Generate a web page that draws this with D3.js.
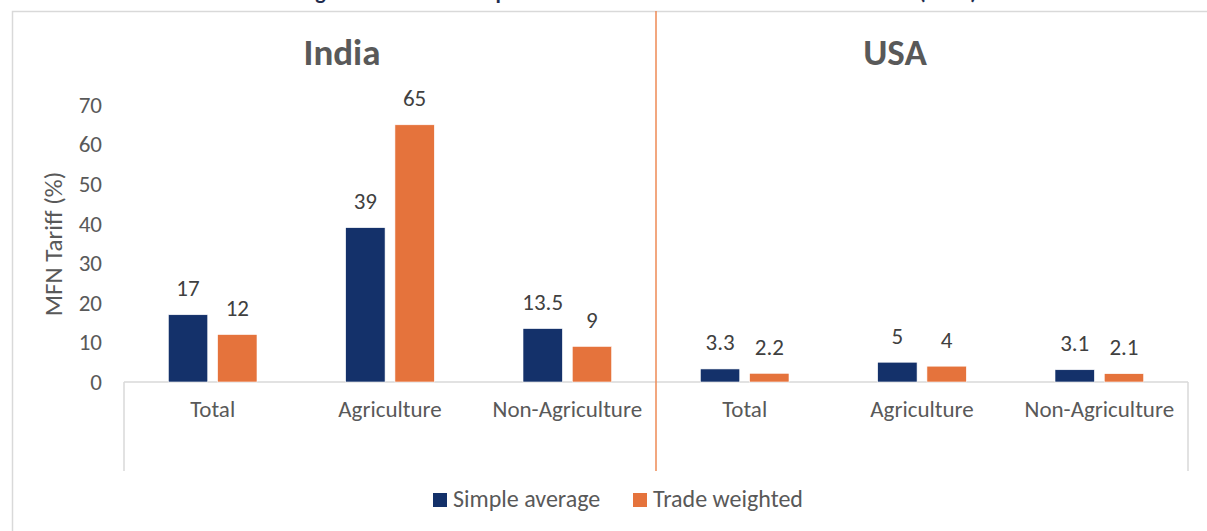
<!DOCTYPE html>
<html>
<head>
<meta charset="utf-8">
<script src="https://cdn.jsdelivr.net/npm/d3@7"></script>
<style>
    body { margin: 0; background: #fff; }
    text { font-family: Calibri, Carlito, 'Noto Sans', sans-serif; }
</style>
</head>
<body>
<div id="chart-area"></div>
<script>
// Data
const countries = ['India', 'USA'];
const categories = ['Total', 'Agriculture', 'Non-Agriculture'];
const seriesNames = ['Simple average', 'Trade weighted'];
const simpleAverage = [17, 39, 13.5, 3.3, 5, 3.1];
const tradeWeighted = [12, 65, 9, 2.2, 4, 2.1];
const yTicks = [0, 10, 20, 30, 40, 50, 60, 70];
const chartTitle = 'Average Tariff Rates: Comparison of India & USA – Most Favored Nation (2023)';

const colors = ['#14316a', '#e5733c'];

// Size
const W = 1207;
const H = 531;
const plot = { left: 124, right: 1188, top: 105, bottom: 382 };
const countryLabelX = [342, 895];

const svg = d3.select('#chart-area')
    .append('svg')
    .attr('width', W)
    .attr('height', H);

// Chart border (cropped)
svg.append('rect')
    .attr('x', 12.5)
    .attr('y', 11.5)
    .attr('width', 1220)
    .attr('height', 560)
    .attr('fill', 'none')
    .attr('stroke', '#d9d9d9')
    .attr('stroke-width', 1.5);

// Title (almost fully out of frame, only descenders show)
svg.append('text')
    .attr('x', 620)
    .attr('y', -1)
    .attr('text-anchor', 'middle')
    .attr('font-size', '22px')
    .attr('font-weight', 'bold')
    .attr('fill', '#1f2d4f')
    .text(chartTitle);

// Rows: one per country/category
const rows = [];
countries.forEach((c, i) => {
    categories.forEach((cat, j) => {
        const k = i * categories.length + j;
        rows.push({ id: k, country: c, category: cat, values: [simpleAverage[k], tradeWeighted[k]] });
    });
});

// X Scale
const x = d3.scaleBand()
    .domain(rows.map((d) => d.id))
    .range([plot.left, plot.right])
    .padding(0);

const x1 = d3.scaleBand()
    .domain(seriesNames)
    .range([0, x.bandwidth()])
    .paddingInner(0.2)
    .paddingOuter(0.9);

// Y Scale
const y = d3.scaleLinear()
    .domain([0, 70])
    .range([plot.bottom, plot.top]);

// Y Axis
const yAxisCall = d3.axisLeft(y)
    .tickValues(yTicks)
    .tickSize(0)
    .tickPadding(0);
const yAxis = svg.append('g')
    .attr('transform', 'translate(102, 0)')
    .call(yAxisCall);
yAxis.select('.domain').remove();
yAxis.selectAll('text')
    .attr('font-size', '23px')
    .attr('fill', '#595959')
    .style('font-family', "Calibri, Carlito, 'Noto Sans', sans-serif");

// Y Label
svg.append('text')
    .attr('transform', 'translate(56, 244) rotate(-90)')
    .attr('text-anchor', 'middle')
    .attr('dominant-baseline', 'middle')
    .attr('font-size', '25px')
    .attr('fill', '#595959')
    .text('MFN Tariff (%)');

// Category axis
const axisG = svg.append('g');
axisG.append('line')
    .attr('x1', plot.left).attr('x2', plot.right)
    .attr('y1', plot.bottom).attr('y2', plot.bottom)
    .attr('stroke', '#d9d9d9').attr('stroke-width', 1.5);
[plot.left, plot.right].forEach((xx) => {
    axisG.append('line')
        .attr('x1', xx).attr('x2', xx)
        .attr('y1', plot.bottom).attr('y2', 471)
        .attr('stroke', '#d9d9d9').attr('stroke-width', 1.5);
});

axisG.selectAll('.cat-label')
    .data(rows)
    .enter()
    .append('text')
    .attr('class', 'cat-label')
    .attr('x', (d) => x(d.id) + x.bandwidth() / 2)
    .attr('y', 412)
    .attr('text-anchor', 'middle')
    .attr('dominant-baseline', 'middle')
    .attr('font-size', '23px')
    .attr('fill', '#595959')
    .text((d) => d.category);

// Divider between countries
const divX = x(categories.length);
svg.append('line')
    .attr('x1', divX).attr('x2', divX)
    .attr('y1', 11).attr('y2', 471)
    .attr('stroke', '#ee8a55')
    .attr('stroke-width', 1.5);

// Country titles
countries.forEach((c, i) => {
    svg.append('text')
        .attr('x', countryLabelX[i])
        .attr('y', 56)
        .attr('text-anchor', 'middle')
        .attr('dominant-baseline', 'middle')
        .attr('font-size', '37px')
        .attr('font-weight', 'bold')
        .attr('fill', '#595959')
        .text(c);
});

// Bars
const groups = svg.selectAll('.grp')
    .data(rows)
    .enter()
    .append('g')
    .attr('class', 'grp')
    .attr('transform', (d) => 'translate(' + x(d.id) + ', 0)');

const bars = groups.selectAll('rect')
    .data((d) => d.values.map((v, i) => ({ name: seriesNames[i], value: v, idx: i })))
    .enter();

bars.append('rect')
    .attr('x', (d) => x1(d.name))
    .attr('y', (d) => y(d.value))
    .attr('width', x1.bandwidth())
    .attr('height', (d) => plot.bottom - y(d.value))
    .attr('fill', (d) => colors[d.idx])
    .attr('stroke', '#ffffff')
    .attr('stroke-width', 0.6);

bars.append('text')
    .attr('x', (d) => x1(d.name) + x1.bandwidth() / 2)
    .attr('y', (d) => y(d.value) - 24)
    .attr('text-anchor', 'middle')
    .attr('dominant-baseline', 'middle')
    .attr('font-size', '23px')
    .attr('fill', '#404040')
    .text((d) => d.value);

// Legend
const legend = svg.append('g');
const legendX = [433, 633];
seriesNames.forEach((s, i) => {
    legend.append('rect')
        .attr('x', legendX[i])
        .attr('y', 493)
        .attr('width', 14)
        .attr('height', 14)
        .attr('fill', colors[i]);
    legend.append('text')
        .attr('x', legendX[i] + 20)
        .attr('y', 501)
        .attr('dominant-baseline', 'middle')
        .attr('font-size', '24px')
        .attr('fill', '#595959')
        .text(s);
});
</script>
</body>
</html>
